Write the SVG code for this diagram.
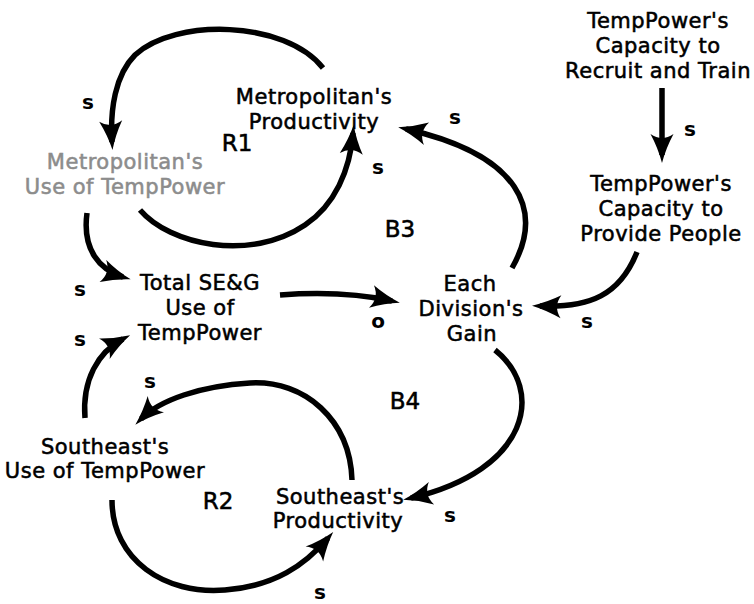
<svg xmlns="http://www.w3.org/2000/svg" width="754" height="604" viewBox="0 0 754 604">
<style>
text{font-family:"DejaVu Sans","Liberation Sans",sans-serif;font-size:21px;letter-spacing:0.5px;fill:#000;text-anchor:middle;stroke:#000;stroke-width:0.55px}
.gray{fill:#8c8c8c;stroke:#8c8c8c}
.pol{font-size:20px;font-weight:bold;stroke:none;letter-spacing:0}
.loop{font-size:23px;letter-spacing:0}
.c{fill:none;stroke:#000;stroke-width:5.5;marker-end:url(#ah)}
</style>
<defs>
<marker id="ah" markerUnits="userSpaceOnUse" markerWidth="36" markerHeight="30" viewBox="-26 -15 36 30" refX="0" refY="0" orient="auto">
<path d="M8,0 Q-7,-4 -21,-11.5 Q-13,0 -21,11.5 Q-7,4 8,0 Z" fill="#000"/>
</marker>
</defs>
<rect width="754" height="604" fill="#fff"/>
<g id="connectors">
<path class="c" d="M323,68 C285,20 175,18 135,55 C115,75 110,110 112,142"/>
<path class="c" d="M140,210 C170,245 250,262 305,225 C335,205 350,170 353,133"/>
<path class="c" d="M87,213 C82,250 100,270 123,277"/>
<path class="c" d="M85,418 C82,380 98,352 123,339"/>
<path class="c" d="M280,295 C320,292 360,294 392,301"/>
<path class="c" d="M512,268 C545,210 520,155 406,129"/>
<path class="c" d="M662,88 L662,155"/>
<path class="c" d="M637,252 C620,295 590,308 540,306"/>
<path class="c" d="M495,350 C545,390 530,470 411,498"/>
<path class="c" d="M352,480 C350,420 305,380 250,383 C200,386 160,400 141,419"/>
<path class="c" d="M112,500 C112,560 165,595 225,590 C275,586 305,565 328,538"/>
</g>
<g id="recruit"><text x="658" y="28">TempPower's</text><text x="658" y="53">Capacity to</text><text x="658" y="78">Recruit and Train</text></g>
<g id="provide"><text x="661" y="191">TempPower's</text><text x="661" y="216">Capacity to</text><text x="661" y="241">Provide People</text></g>
<g id="gain"><text x="470" y="291">Each</text><text x="471" y="316">Division's</text><text x="472" y="341">Gain</text></g>
<g id="metroProd"><text x="314" y="104">Metropolitan's</text><text x="314" y="129">Productivity</text></g>
<g id="metroUse"><text class="gray" x="125" y="169">Metropolitan's</text><text class="gray" x="125" y="194">Use of TempPower</text></g>
<g id="total"><text x="200" y="290">Total SE&amp;G</text><text x="200" y="315">Use of</text><text x="200" y="340">TempPower</text></g>
<g id="seUse"><text x="105" y="454">Southeast's</text><text x="105" y="478">Use of TempPower</text></g>
<g id="seProd"><text x="340" y="504">Southeast's</text><text x="338" y="528">Productivity</text></g>
<g id="labels">
<text class="pol" x="88" y="109">s</text>
<text class="pol" x="378" y="174">s</text>
<text class="pol" x="455" y="124">s</text>
<text class="pol" x="690" y="136">s</text>
<text class="pol" x="587" y="328">s</text>
<text class="pol" x="80" y="296">s</text>
<text class="pol" x="80" y="346">s</text>
<text class="pol" x="378" y="328">o</text>
<text class="pol" x="150" y="388">s</text>
<text class="pol" x="450" y="522">s</text>
<text class="pol" x="320" y="599">s</text>
<text class="loop" x="237" y="151">R1</text>
<text class="loop" x="400" y="237">B3</text>
<text class="loop" x="405" y="409">B4</text>
<text class="loop" x="218" y="509">R2</text>
</g>
</svg>
